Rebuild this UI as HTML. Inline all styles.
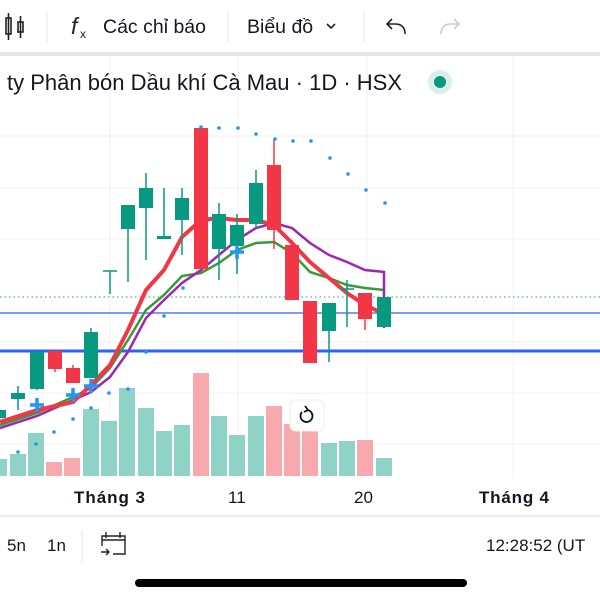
<!DOCTYPE html>
<html><head><meta charset="utf-8"><style>
html,body{margin:0;padding:0;background:#fff;width:600px;height:600px;overflow:hidden}
svg{display:block;font-family:"Liberation Sans","Noto Sans CJK SC",sans-serif}
</style></head><body>
<svg width="600" height="600" viewBox="0 0 600 600" xmlns="http://www.w3.org/2000/svg">
<rect width="600" height="600" fill="#fff"/>
<!-- toolbar -->
<g stroke="#222" stroke-width="1.6" fill="none">
<rect x="6" y="18" width="5" height="16"/><line x1="8.5" y1="13" x2="8.5" y2="40"/>
<rect x="18" y="22" width="5" height="10"/><line x1="20.5" y1="16" x2="20.5" y2="38"/>
</g>
<line x1="47" y1="12" x2="47" y2="42" stroke="#e6e6e6"/>
<text x="71" y="34" font-size="23" font-style="italic" fill="#222">f</text>
<text x="80" y="38" font-size="12" fill="#222">x</text>
<text x="103" y="33" font-size="19.5" fill="#131722">Các chỉ báo</text>
<line x1="228" y1="12" x2="228" y2="42" stroke="#e6e6e6"/>
<text x="247" y="33" font-size="19.5" fill="#131722">Biểu đồ</text>
<path d="M327 24 l4 4 l4 -4" stroke="#222" stroke-width="1.6" fill="none"/>
<line x1="364" y1="12" x2="364" y2="42" stroke="#e6e6e6"/>
<path d="M405 34 q0 -10 -10 -10 h-8 M392 19 l-5 5 l5 5" stroke="#222" stroke-width="1.6" fill="none"/>
<path d="M441 34 q0 -10 10 -10 h8 M454 19 l5 5 l-5 5" stroke="#ccc" stroke-width="1.6" fill="none"/>
<rect x="0" y="52" width="600" height="4" fill="#e4e5e8"/>
<!-- grid -->
<g stroke="#f0f1f3" stroke-width="1">
<line x1="110" y1="56" x2="110" y2="478"/><line x1="238" y1="56" x2="238" y2="478"/>
<line x1="367" y1="56" x2="367" y2="478"/><line x1="513" y1="56" x2="513" y2="478"/>
<line x1="0" y1="136" x2="600" y2="136"/><line x1="0" y1="188" x2="600" y2="188"/>
<line x1="0" y1="239" x2="600" y2="239"/><line x1="0" y1="342" x2="600" y2="342"/>
<line x1="0" y1="393" x2="600" y2="393"/><line x1="0" y1="444" x2="600" y2="444"/>
</g>
<text x="7" y="90" font-size="22" fill="#131722" textLength="395">ty Phân bón Dầu khí Cà Mau · 1D · HSX</text>
<circle cx="440" cy="82" r="12" fill="#d9efe9"/><circle cx="440" cy="82" r="6" fill="#089981"/>
<!-- volumes -->
<g fill="#8fd3c6">
<rect x="0" y="459" width="7" height="17"/><rect x="10" y="454" width="16" height="22"/><rect x="28" y="433" width="16" height="43"/>
<rect x="83" y="409" width="16" height="67"/><rect x="101" y="421" width="16" height="55"/><rect x="119" y="388" width="16" height="88"/>
<rect x="138" y="408" width="16" height="68"/><rect x="156" y="431" width="16" height="45"/><rect x="174" y="425" width="16" height="51"/>
<rect x="211" y="416" width="16" height="60"/><rect x="229" y="435" width="16" height="41"/><rect x="248" y="416" width="16" height="60"/>
<rect x="321" y="443" width="16" height="33"/><rect x="339" y="441" width="16" height="35"/><rect x="376" y="458" width="16" height="18"/>
</g>
<g fill="#f7a9ae">
<rect x="46" y="462" width="16" height="14"/><rect x="64" y="458" width="16" height="18"/><rect x="193" y="373" width="16" height="103"/>
<rect x="266" y="406" width="16" height="70"/><rect x="284" y="424" width="16" height="52"/><rect x="302" y="426" width="16" height="50"/>
<rect x="357" y="440" width="16" height="36"/>
</g>
<!-- horizontal lines -->
<line x1="0" y1="297" x2="600" y2="297" stroke="#3a9a5a" stroke-width="1" stroke-dasharray="1.5,3"/>
<line x1="0" y1="313" x2="600" y2="313" stroke="#2962ff" stroke-width="1.2"/>
<line x1="0" y1="351" x2="600" y2="351" stroke="#2962ff" stroke-width="3"/>
<!-- MAs -->
<polyline fill="none" stroke="#3a9a3a" stroke-width="2.5" points="0,425 37,413 73,397 91,388 110,368 128,340 146,310 164,295 182,276 201,273 219,263 237,250 256,243 274,242 292,253 310,272 329,278 347,285 365,288 384,290"/>
<polyline fill="none" stroke="#9c27b0" stroke-width="2.5" points="0,428 37,416 73,400 91,392 110,377 128,352 146,318 164,300 182,283 201,270 219,255 237,240 256,228 274,223 292,228 310,243 329,255 347,262 365,270 384,272 384,328"/>
<polyline fill="none" stroke="#f23645" stroke-width="4" points="0,422 37,410 73,402 91,385 110,365 128,330 146,290 164,270 182,237 201,220 219,218 237,220 256,220 274,225 292,243 310,262 329,278 347,293 365,305 380,312"/>
<!-- candles -->
<g stroke="#089981" stroke-width="1.5">
<line x1="18" y1="386" x2="18" y2="410"/><line x1="37" y1="350" x2="37" y2="390"/><line x1="91" y1="328" x2="91" y2="378"/>
<line x1="110" y1="271" x2="110" y2="294"/><line x1="103" y1="271" x2="117" y2="271"/>
<line x1="128" y1="205" x2="128" y2="282"/><line x1="146" y1="173" x2="146" y2="260"/><line x1="164" y1="188" x2="164" y2="238"/>
<line x1="182" y1="188" x2="182" y2="255"/><line x1="219" y1="203" x2="219" y2="280"/><line x1="237" y1="214" x2="237" y2="274"/>
<line x1="256" y1="170" x2="256" y2="228"/><line x1="329" y1="303" x2="329" y2="362"/><line x1="347" y1="280" x2="347" y2="327"/>
<line x1="340" y1="289" x2="354" y2="289"/><line x1="384" y1="297" x2="384" y2="327"/>
</g>
<g fill="#089981">
<rect x="0" y="410" width="6" height="8"/><rect x="11" y="393" width="14" height="6"/><rect x="30" y="352" width="14" height="37"/>
<rect x="84" y="332" width="14" height="46"/><rect x="121" y="205" width="14" height="24"/><rect x="139" y="188" width="14" height="20"/>
<rect x="157" y="236" width="14" height="3"/><rect x="175" y="198" width="14" height="22"/><rect x="212" y="214" width="14" height="35"/>
<rect x="230" y="225" width="14" height="21"/><rect x="249" y="183" width="14" height="41"/><rect x="322" y="303" width="14" height="28"/>
<rect x="377" y="297" width="14" height="30"/>
</g>
<g stroke="#f23645" stroke-width="1.5">
<line x1="55" y1="351" x2="55" y2="372"/><line x1="73" y1="365" x2="73" y2="383"/><line x1="274" y1="140" x2="274" y2="249"/>
<line x1="292" y1="240" x2="292" y2="300"/><line x1="365" y1="293" x2="365" y2="330"/>
</g>
<g fill="#f23645">
<rect x="48" y="351" width="14" height="18"/><rect x="66" y="368" width="14" height="15"/><rect x="194" y="128" width="14" height="141"/>
<rect x="267" y="165" width="14" height="65"/><rect x="285" y="245" width="14" height="55"/><rect x="303" y="301" width="14" height="62"/>
<rect x="358" y="293" width="14" height="26"/>
</g>
<!-- SAR -->
<g fill="#2196f3">
<circle cx="18" cy="452" r="1.8"/><circle cx="36" cy="444" r="1.8"/><circle cx="54" cy="432" r="1.8"/><circle cx="73" cy="419" r="1.8"/>
<circle cx="91" cy="408" r="1.8"/><circle cx="109" cy="393" r="1.8"/><circle cx="128" cy="389" r="1.8"/><circle cx="146" cy="352" r="1.8"/>
<circle cx="164" cy="316" r="1.8"/><circle cx="183" cy="288" r="1.8"/><circle cx="201" cy="127" r="1.8"/><circle cx="219" cy="128" r="1.8"/>
<circle cx="238" cy="128" r="1.8"/><circle cx="256" cy="134" r="1.8"/><circle cx="275" cy="139" r="1.8"/><circle cx="293" cy="141" r="1.8"/>
<circle cx="311" cy="141" r="1.8"/><circle cx="330" cy="158" r="1.8"/><circle cx="348" cy="174" r="1.8"/><circle cx="366" cy="190" r="1.8"/>
<circle cx="385" cy="203" r="1.8"/>
</g>
<g stroke="#2196f3" stroke-width="3.5">
<path d="M30 405h14M37 398v14"/><path d="M66 395h14M73 388v14"/><path d="M84 386h14M91 379v14"/><path d="M230 252h14M237 245v14"/>
</g>
<!-- reset button -->
<rect x="290" y="400" width="34" height="31" rx="5" fill="#fff" stroke="#eee"/>
<path d="M302 412 a6 6 0 1 0 5 -2" stroke="#111" stroke-width="1.8" fill="none"/><path d="M305 406 l3 4 l-4 2" stroke="#111" stroke-width="1.8" fill="none"/>
<!-- axis -->
<g font-size="17" fill="#131722">
<text x="74" y="503" font-weight="bold" textLength="71">Tháng 3</text>
<text x="228" y="503">11</text>
<text x="354" y="503">20</text>
<text x="479" y="503" font-weight="bold" textLength="70">Tháng 4</text>
</g>
<line x1="0" y1="516" x2="600" y2="516" stroke="#e6e6e6" stroke-width="1.5"/>
<g font-size="17" fill="#131722">
<text x="7" y="551">5n</text><text x="47" y="551">1n</text>
<text x="486" y="551">12:28:52 (UT</text>
</g>
<line x1="82" y1="530" x2="82" y2="562" stroke="#e6e6e6"/>
<g stroke="#222" stroke-width="1.4" fill="none">
<path d="M102 546 v-10 h23 v18 h-12 M102 540 h23 M106 532 v6 M120 532 v6 M101 552 h8 M106 549 l3 3 l-3 3"/>
</g>
<rect x="135" y="579" width="332" height="8" rx="4" fill="#000"/>
</svg>
</body></html>
